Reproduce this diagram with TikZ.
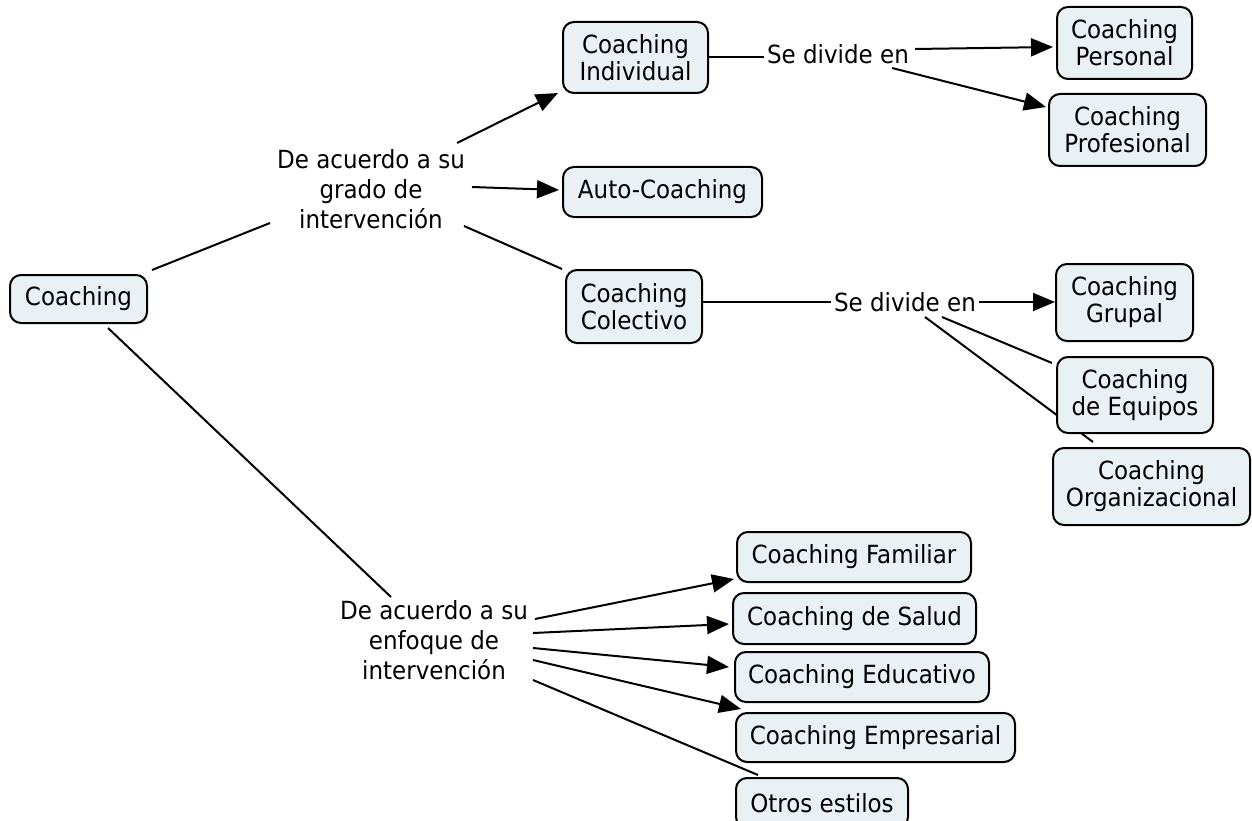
\documentclass[tikz,border=0pt]{standalone}
\usepackage{fontspec}
\setmainfont[FakeStretch=0.92]{DejaVu Sans}
\usetikzlibrary{arrows.meta,backgrounds}
\definecolor{boxfill}{RGB}{234,241,245}
\begin{document}
\begin{tikzpicture}[x=1pt,y=-1pt,
  box/.style={draw=black, line width=2pt, fill=boxfill, rounded corners=11pt,
    inner sep=0pt, align=center, font=\fontsize{25}{27}\selectfont},
  link/.style={align=center, font=\fontsize{25}{30}\selectfont, inner sep=3pt},
  con/.style={line width=2pt},
  arr/.style={con, -{Triangle[length=22pt,width=18pt]}}]
\useasboundingbox (0,0) rectangle (1252,821);
% concepts
\node[box, minimum width=137pt, minimum height=48pt] (coaching) at (78.5,299) {Coaching};
\node[box, minimum width=145pt, minimum height=71pt] (ind) at (635.5,57.5) {Coaching\\Individual};
\node[box, minimum width=199pt, minimum height=50pt] (auto) at (662.5,192) {Auto-Coaching};
\node[box, minimum width=136pt, minimum height=73pt] (col) at (634,306.5) {Coaching\\Colectivo};
\node[box, minimum width=135pt, minimum height=72pt] (pers) at (1124.5,43) {Coaching\\Personal};
\node[box, minimum width=157pt, minimum height=72pt] (prof) at (1127.5,130) {Coaching\\Profesional};
\node[box, minimum width=137pt, minimum height=77pt] (grup) at (1124.5,302.5) {Coaching\\Grupal};
\node[box, minimum width=156pt, minimum height=76pt] (equi) at (1135,395) {Coaching\\de Equipos};
\node[box, minimum width=197pt, minimum height=77pt] (org) at (1151.5,486.5) {Coaching\\Organizacional};
\node[box, minimum width=234pt, minimum height=50pt] (fam) at (854,557) {Coaching Familiar};
\node[box, minimum width=243pt, minimum height=51pt] (sal) at (854.5,618.5) {Coaching de Salud};
\node[box, minimum width=254pt, minimum height=50pt] (edu) at (862,677) {Coaching Educativo};
\node[box, minimum width=279pt, minimum height=49pt] (emp) at (875.5,737.5) {Coaching Empresarial};
\node[box, minimum width=172pt, minimum height=50pt] (otros) at (822,803) {Otros estilos};
% linking phrases
\node[link] (grado) at (371,189) {De acuerdo a su\\grado de\\intervención};
\node[link] (sd1) at (838,54) {Se divide en};
\node[link] (sd2) at (905,302) {Se divide en};
\node[link] (enf) at (434,640) {De acuerdo a su\\enfoque de\\intervención};
% connectors
\begin{pgfonlayer}{background}
\draw[con] ([shift={(73.5,-29)}]coaching.center) -- ([shift={(-101,34)}]grado.center);
\draw[arr] ([shift={(86,-46)}]grado.center) -- ([shift={(-77.5,35.5)}]ind.center);
\draw[arr] ([shift={(101,-2)}]grado.center) -- ([shift={(-103.5,-2)}]auto.center);
\draw[con] ([shift={(93,37)}]grado.center) -- ([shift={(-72,-37.5)}]col.center);
\draw[con] (ind.east) -- (ind.east -| sd1.west);
\draw[arr] ([shift={(77,-5)}]sd1.center) -- ([shift={(-71.5,4)}]pers.center);
\draw[arr] ([shift={(54,14)}]sd1.center) -- ([shift={(-81.5,-23)}]prof.center);
\draw[con] (col.east |- sd2.west) -- (sd2.west);
\draw[arr] (sd2.east) -- (grup.west |- sd2.east);
\draw[con] ([shift={(37,15)}]sd2.center) -- ([shift={(-83,-32)}]equi.center);
\draw[con] ([shift={(20,15)}]sd2.center) -- ([shift={(-58.5,-44.5)}]org.center);
\draw[con] ([shift={(29.5,29)}]coaching.center) -- ([shift={(-43,-43)}]enf.center);
\draw[arr] ([shift={(101,-21)}]enf.center) -- ([shift={(-120,22)}]fam.center);
\draw[arr] ([shift={(99,-7)}]enf.center) -- ([shift={(-125.5,5.5)}]sal.center);
\draw[arr] ([shift={(99,8)}]enf.center) -- ([shift={(-133,-10)}]edu.center);
\draw[arr] ([shift={(99,20)}]enf.center) -- ([shift={(-134.5,-28.5)}]emp.center);
\draw[con] ([shift={(99,40)}]enf.center) -- ([shift={(-64,-28)}]otros.center);
\end{pgfonlayer}
\end{tikzpicture}
\end{document}
